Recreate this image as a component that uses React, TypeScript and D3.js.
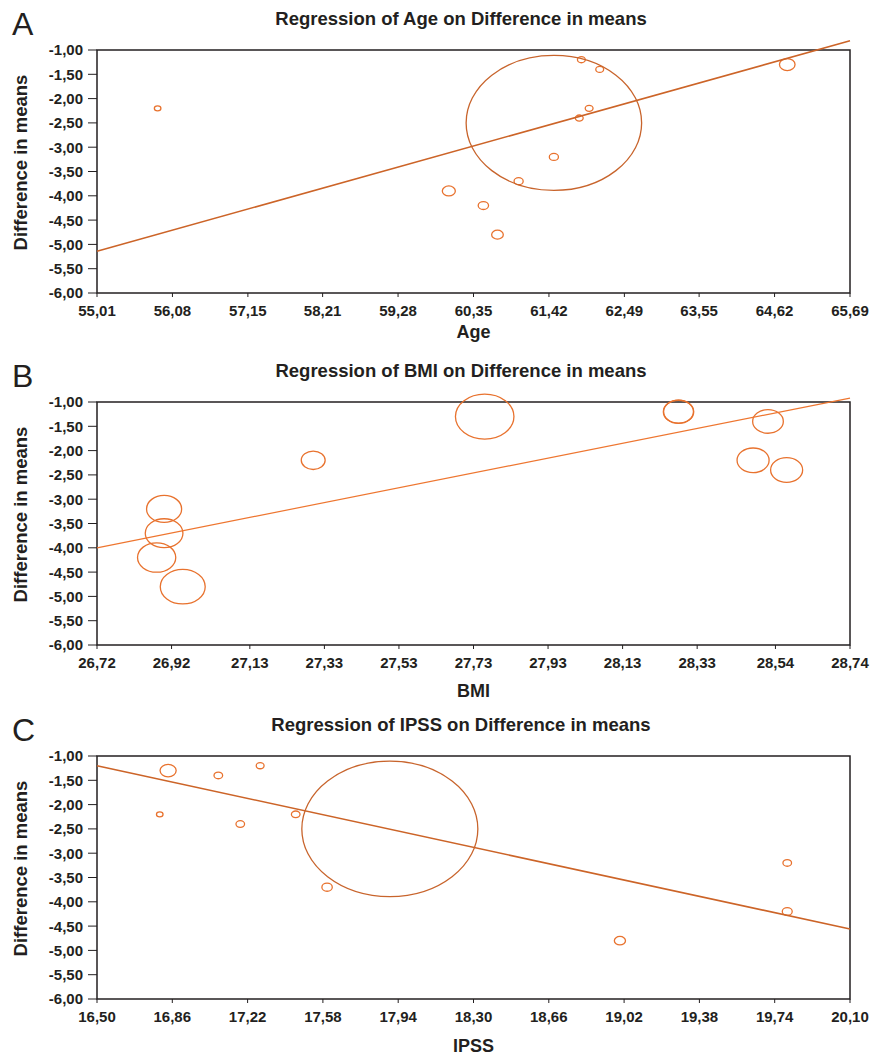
import React from 'react';
import * as d3 from 'd3';

// Panel A: Age
const ageTicks = [55.01, 56.08, 57.15, 58.21, 59.28, 60.35, 61.42, 62.49, 63.55, 64.62, 65.69];
const ageX = [55.87, 60.0, 60.49, 60.69, 60.99, 61.49, 61.85, 61.99, 61.88, 62.14, 64.8, 61.49];
const ageY = [-2.2, -3.9, -4.2, -4.8, -3.7, -3.2, -2.4, -2.2, -1.2, -1.4, -1.3, -2.5];
const ageW = [0.14, 0.55, 0.35, 0.44, 0.27, 0.27, 0.2, 0.2, 0.2, 0.2, 0.79, 100];
const ageLine = [-5.14, -0.81];

// Panel B: BMI
const bmiTicks = [26.72, 26.92, 27.13, 27.33, 27.53, 27.73, 27.93, 28.13, 28.33, 28.54, 28.74];
const bmiX = [26.9, 26.9, 26.88, 26.95, 27.3, 27.76, 28.28, 28.28, 28.52, 28.48, 28.57];
const bmiY = [-3.2, -3.7, -4.2, -4.8, -2.2, -1.3, -1.2, -1.2, -1.4, -2.2, -2.4];
const bmiW = [36, 41.5, 42.7, 59, 16.7, 100, 27, 26, 27.5, 30, 30];
const bmiLine = [-4.0, -0.92];

// Panel C: IPSS
const ipssTicks = [16.5, 16.86, 17.22, 17.58, 17.94, 18.3, 18.66, 19.02, 19.38, 19.74, 20.1];
const ipssX = [16.8, 16.84, 17.08, 17.185, 17.28, 17.45, 17.6, 17.9, 19.0, 19.8, 19.8];
const ipssY = [-2.2, -1.3, -1.4, -2.4, -1.2, -2.2, -3.7, -2.5, -4.8, -3.2, -4.2];
const ipssW = [0.14, 0.84, 0.24, 0.24, 0.2, 0.24, 0.35, 100, 0.4, 0.24, 0.32];
const ipssLine = [-1.2, -4.56];

const yTicks = [-1, -1.5, -2, -2.5, -3, -3.5, -4, -4.5, -5, -5.5, -6];

const fmt = (v: number) => v.toFixed(2).replace('.', ',');

const FONT = '"Liberation Sans", Arial, sans-serif';
const INK = '#231f20';
const DOT = '#e8722e';

interface PanelProps {
  letter: string;
  title: string;
  xLabel: string;
  ticks: number[];
  xs: number[];
  ys: number[];
  ws: number[];
  line: number[];
  top: number;
  maxR: number;
  lineColor: string;
  lineWidth: number;
  labelGap: number;
}

const LEFT = 97;
const RIGHT = 850;
const PH = 243;

const Panel = ({ letter, title, xLabel, ticks, xs, ys, ws, line, top, maxR, lineColor, lineWidth, labelGap }: PanelProps) => {
  const x = d3.scaleLinear().domain([ticks[0], ticks[ticks.length - 1]]).range([LEFT, RIGHT]);
  const y = d3.scaleLinear().domain([-1, -6]).range([top, top + PH]);
  const r = d3.scaleSqrt().domain([0, d3.max(ws) as number]).range([0, maxR]);
  const bottom = top + PH;
  const x0 = ticks[0];
  const x1 = ticks[ticks.length - 1];
  return (
    <g>
      <text x={12} y={top - 15} fontSize={32} fill={INK} fontFamily={FONT}>{letter}</text>
      <text x={461} y={top - 25} fontSize={18.5} fontWeight="bold" fill={INK} fontFamily={FONT} textAnchor="middle">{title}</text>
      <rect x={LEFT} y={top} width={RIGHT - LEFT} height={PH} fill="none" stroke={INK} strokeWidth={1.5} />
      {yTicks.map(t => (
        <g key={t}>
          <line x1={LEFT - 9} x2={LEFT} y1={y(t)} y2={y(t)} stroke={INK} strokeWidth={1} />
          <text x={LEFT - 14} y={y(t)} dy="0.36em" textAnchor="end" fontSize={15} fontWeight="bold" fill={INK} fontFamily={FONT}>{fmt(t)}</text>
        </g>
      ))}
      {ticks.map(t => (
        <g key={t}>
          <line x1={x(t)} x2={x(t)} y1={bottom} y2={bottom + 4} stroke={INK} strokeWidth={1} />
          <text x={x(t)} y={bottom + 23} textAnchor="middle" fontSize={15} fontWeight="bold" fill={INK} fontFamily={FONT}>{fmt(t)}</text>
        </g>
      ))}
      <text x={(LEFT + RIGHT) / 2} y={bottom + labelGap} textAnchor="middle" fontSize={18} fontWeight="bold" fill={INK} fontFamily={FONT}>{xLabel}</text>
      <text transform={`translate(27,${top + PH / 2 - 9}) rotate(-90)`} textAnchor="middle" fontSize={18.5} fontWeight="bold" fill={INK} fontFamily={FONT}>Difference in means</text>
      {xs.map((d, i) => (
        <ellipse key={i} cx={x(d)} cy={y(ys[i])} rx={r(ws[i]) * 1.3} ry={r(ws[i])}
          fill="none" stroke={ws[i] === d3.max(ws) && letter !== 'B' ? '#c8642c' : DOT} strokeWidth={1.3} />
      ))}
      <line x1={x(x0)} x2={x(x1)} y1={y(line[0])} y2={y(line[1])} stroke={lineColor} strokeWidth={lineWidth} />
    </g>
  );
};

export default function App() {
  return (
    <svg width={874} height={1055} style={{ position: 'absolute', left: 0, top: 0, background: '#fff' }}>
      <rect width={874} height={1055} fill="#fff" />
      <Panel letter="A" title="Regression of Age on Difference in means" xLabel="Age" ticks={ageTicks}
        xs={ageX} ys={ageY} ws={ageW} line={ageLine} top={50} maxR={67.5} lineColor="#cc6428" lineWidth={1.6} labelGap={45} />
      <Panel letter="B" title="Regression of BMI on Difference in means" xLabel="BMI" ticks={bmiTicks}
        xs={bmiX} ys={bmiY} ws={bmiW} line={bmiLine} top={402} maxR={22.5} lineColor="#ee7630" lineWidth={1.2} labelGap={52} />
      <Panel letter="C" title="Regression of IPSS on Difference in means" xLabel="IPSS" ticks={ipssTicks}
        xs={ipssX} ys={ipssY} ws={ipssW} line={ipssLine} top={756} maxR={67.7} lineColor="#cc6428" lineWidth={1.6} labelGap={53} />
    </svg>
  );
}
